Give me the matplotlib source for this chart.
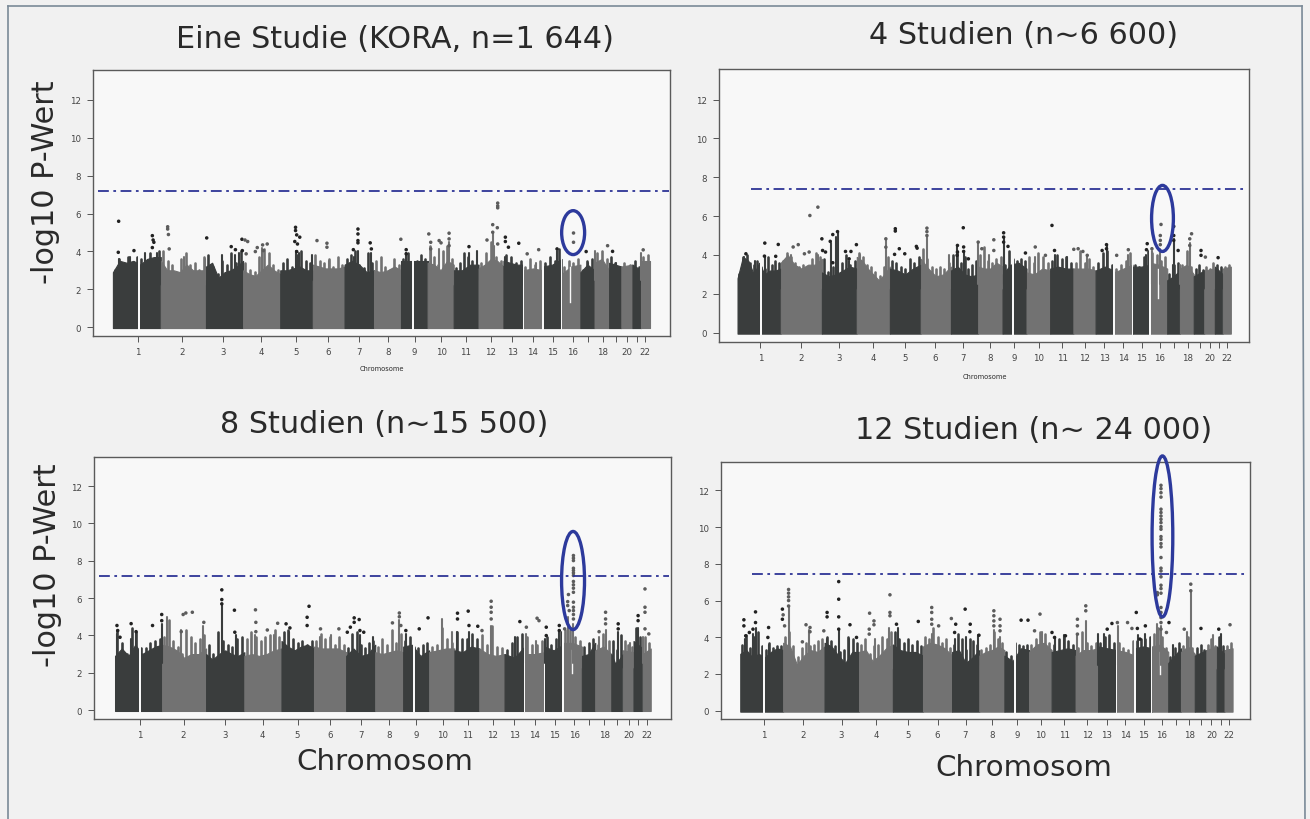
import numpy as np
import matplotlib
matplotlib.use("Agg")
import matplotlib.pyplot as plt
from matplotlib.patches import Ellipse, Rectangle

W, H = 1310, 820
PAPER = "#f1f1f1"; PANEL = "#f8f8f8"; DARK = "#3a3d3d"; GRAY = "#727272"; BLUE = "#2e3596"; HITDARK = "#222222"

chrom_labels = ["1","2","3","4","5","6","7","8","9","10","11","12","13","14","15","16","","18","","20","","22"]
y_ticks = [0,2,4,6,8,10,12]

# ---------- Panel A ----------
edges_a = [60,185,303,400,497,582,665,742,813,882,950,1015,1080,1131,1183,1232,1281,1318,1356,1388,1417,1440,1462]
ticks_a = [125,240,348,447,538,623,702,778,848,917,982,1047,1103,1157,1209,1261,1300,1339,1373,1403,1429,1450]
gaps_a = [(126,132),(840,846),(1130,1134),(1181,1185),(1231,1234)]
notch_a = (1255,1.3,3.2)
env_a = [[2.9,3.5,3.4,3.5,3.3,3.6,3.7,3.7],[3.5,3.0,3.0,2.9,3.3,3.0,3.0,3.0],[3.2,3.4,2.6,2.9,3.0,3.2,3.5],
         [3.0,2.8,2.7,3.0,3.3,3.0,2.8],[3.0,3.0,3.1,3.2,3.0,3.0],[3.3,3.2,3.1,3.1,3.1,3.2],[3.3,3.5,3.3,2.9,3.0],
         [3.0,2.9,3.0,3.2,3.0],[3.5,3.5,3.5,3.5],[3.4,3.3,3.0,3.5,3.3],[3.0,3.0,3.3,3.3],[3.1,3.3,3.6,3.5,3.2],
         [3.5,3.4,3.3,3.3],[3.0,3.1,3.0],[3.2,3.3,3.6],[2.8,3.2,3.3],[2.9,3.3,3.0],[3.4,3.6,3.0],[3.4,3.2],[3.2,3.3],[3.3,3.0],[3.5,3.5]]
rough_a = [[3.0,3.6,3.3,3.7,3.4,3.7,3.6,3.2,3.9,3.5,4.0],[4.0,3.5,3.3,2.8,3.6,3.9,3.3,3.4,3.0,3.7],[3.8,3.2,2.8,3.5,3.3,3.9,3.4,4.0],
           [3.4,3.0,2.9,3.7,4.1,3.9,3.3,3.0],[3.4,3.6,3.2,3.8,4.0,3.5,3.4],[3.8,3.5,3.4,3.6,3.2,3.7,3.3],[3.6,3.8,4.0,3.3,3.1,3.9,3.4],
           [3.5,3.7,3.2,3.0,3.6,3.3],[3.6,3.9,3.4,3.5,3.8,3.6],[4.3,3.7,3.3,4.0,4.3,3.6],[3.1,3.4,3.9,3.7,3.5,3.2],[3.4,3.9,4.5,3.7,3.5],
           [3.8,3.7,3.4,3.5],[3.2,3.6,3.3,3.5],[3.4,3.7,3.5,4.1],[3.2,3.5,3.4,3.6],[3.0,3.5,3.6],[3.9,4.0,3.6],[3.7,3.4,3.2],[3.4,3.3],[3.5,3.2],[3.7,3.8]]
spike_xa = [1052,1056,938,890,912,450,537,390,175,145,1010,990,1220,1320,1440,700,735,75,105,345,380,545,580,625,690,825,245,300,1085,1165,1300,1375]
spike_ya = [5.0,4.3,4.5,4.2,4.1,4.2,4.0,3.9,3.9,3.9,4.0,3.9,4.0,4.0,3.9,4.0,3.9,3.6,3.7,3.8,3.8,3.9,3.8,3.5,3.7,3.9,3.7,3.6,3.7,3.4,3.4,3.4]
hit_xa = [75,74,115,163,165,167,163,203,203,205,207,305,369,380,397,405,412,398,408,437,432,451,463,453,537,537,540,548,535,542,540,593,619,619,700,700,700,700,688,732,735,812,826,826,885,890,890,912,917,938,938,938,990,1052,1064,1052,1037,1065,1065,1065,1085,1085,1065,1093,1120,1142,1172,1220,1263,1263,1296,1352,1365,1445]
hit_ya = [5.59,3.95,4.04,4.83,4.6,4.48,4.2,5.3,5.18,4.89,4.13,4.71,4.25,4.09,4.64,4.6,4.52,4.04,3.87,4.2,3.99,4.34,4.39,4.04,5.27,5.1,4.87,4.75,4.52,4.39,3.99,4.57,4.43,4.22,5.18,4.92,4.57,4.45,4.09,4.45,4.13,4.64,4.09,3.87,4.92,4.48,4.13,4.57,4.45,4.96,4.66,4.3,4.25,5.41,5.25,5.01,4.6,6.55,6.4,6.3,4.75,4.52,4.39,4.22,4.43,3.87,4.09,4.13,4.97,4.48,3.99,4.3,4.0,4.08]

# ---------- Panel B ----------
edges_b = [103,222,335,431,522,607,690,765,832,898,963,1027,1088,1139,1190,1238,1285,1320,1358,1387,1416,1438,1460]
ticks_b = [166,277,382,476,564,647,723,797,863,932,996,1058,1112,1164,1215,1265,1303,1341,1375,1402,1427,1449]
gaps_b = [(165,171),(858,863),(1137,1141),(1188,1192),(1236,1241)]
notch_b = (1260,1.8,3.3)
env_b = [[2.8,3.9,3.7,3.0,3.6,3.0,3.2,3.2,3.3],[3.6,4.0,3.5,3.3,3.5,3.5,3.8],[3.1,2.9,3.0,3.2,3.4,3.3],[3.9,3.7,3.3,3.0,2.7,3.0,3.4],
         [3.3,3.2,3.0,3.3,3.5],[3.8,3.3,2.9,3.0,3.4],[3.2,3.4,3.0,2.9,3.0],[3.4,3.3,3.3,3.6,3.4],[3.0,3.5,3.6,3.3],[3.1,3.0,3.3,3.2],
         [3.3,3.4,3.3,3.3],[3.3,3.3,3.3,3.2],[3.2,3.4,3.2],[3.1,3.3,3.5],[3.4,3.4,3.5],[3.6,3.5,3.3],[2.7,2.9,3.2],[3.3,3.5,3.0],[2.9,3.2],[3.2,3.3],[3.4,3.0],[3.3,3.4]]
rough_b = [[3.0,3.9,4.0,3.6,3.5,3.7,3.4,3.3,3.9,3.5,3.7,3.6],[3.7,4.1,3.9,3.6,3.4,3.5,3.3,3.8,4.1,3.9],[3.8,3.1,3.4,3.3,3.6,4.0,3.5,3.7],
           [4.1,3.9,3.5,3.4,3.1,2.9,3.4,3.9],[3.7,3.6,3.4,3.3,3.8,3.6,3.9],[4.3,3.8,3.4,3.3,3.4,3.3,3.6],[4.0,4.2,3.6,3.9,3.3,3.5,3.7],
           [4.0,4.4,3.7,3.6,3.8,3.9],[3.5,4.2,3.8,3.7,3.8,3.7],[3.9,3.6,4.1,3.9,3.6],[3.7,4.0,3.8,3.9,3.6],[3.6,4.2,3.6,3.8,3.4],
           [3.6,4.1,4.2,3.5],[3.3,3.5,3.7,4.1],[3.5,3.4,3.9,4.2],[4.1,4.0,3.7,3.9],[3.0,3.5,3.6],[3.5,4.2,3.4],[3.3,3.5,3.2],[3.4,3.3,3.6],[3.5,3.4],[3.4,3.5]]
spike_xb = [378,375,511,624,1303,1347,1118,765,835,708,725,1228,1243,1266,1178,922,975,120,150,178,360,410,440,250,325,795,685,1010,1065,1320,1300]
spike_yb = [5.2,4.9,4.8,5.0,4.8,4.6,4.5,4.6,4.9,4.4,4.2,4.0,4.2,4.3,4.0,3.9,4.0,3.9,3.7,3.95,4.6,3.7,4.0,4.0,4.0,4.0,4.0,3.9,3.9,3.5,3.5]
hit_xb = [126,178,215,177,208,256,270,302,324,335,287,300,337,345,400,415,430,410,378,365,358,365,537,537,548,535,563,595,597,511,511,624,624,624,724,725,725,708,708,707,738,765,775,808,808,835,835,835,847,922,895,968,975,950,1028,1040,1053,1065,1106,1118,1118,1146,1178,1230,1228,1243,1268,1266,1266,1266,1303,1303,1303,1315,1352,1347,1347,1378,1378,1390,1425]
hit_yb = [4.06,4.61,4.54,3.94,3.93,4.41,4.53,6.03,6.46,4.83,4.06,4.15,4.23,4.15,4.18,4.18,4.53,3.8,5.2,5.05,4.7,3.6,5.35,5.23,4.32,4.03,4.06,4.44,4.35,4.83,4.4,5.38,5.2,5.0,5.4,4.41,4.18,4.49,4.15,3.98,3.8,4.66,4.32,4.78,4.23,5.14,4.92,4.66,4.44,4.41,4.1,5.52,4.23,3.98,4.29,4.32,4.18,3.98,4.23,4.53,4.32,3.98,4.27,4.58,4.27,4.32,5.57,5.0,4.75,4.53,5.47,5.0,4.75,4.23,5.09,4.83,4.49,4.23,3.98,3.89,3.86]

# ---------- Panel C ----------
edges_c = [65,188,303,403,500,585,669,745,818,886,952,1017,1083,1135,1187,1236,1285,1320,1362,1392,1420,1444,1465]
ticks_c = [130,244,353,451,542,628,707,781,851,921,987,1052,1108,1162,1214,1265,1304,1343,1377,1407,1433,1456]
gaps_c = [(128,134),(843,848),(1133,1137),(1185,1189),(1234,1238)]
notch_c = (1258,2.0,3.2)
env_c = [[2.9,3.3,2.9,3.5,3.0,3.2,3.4,3.5],[3.5,3.4,3.2,2.8,3.0,3.0,3.3],[3.0,2.7,3.0,3.2,3.0,2.9,3.1],[2.9,3.0,2.9,3.0,3.2,3.3],
         [3.7,3.4,3.2,3.4,3.5,3.3],[3.4,3.3,3.3,3.3,3.1],[2.9,3.3,2.9,3.0,3.5],[3.1,3.0,3.1,3.2,3.1],[3.4,3.5,2.9,3.2],[3.1,3.2,3.3,3.3],
         [3.2,3.1,3.4,3.3],[3.3,3.0,2.9,3.0],[3.0,2.8,3.4],[3.0,3.0,3.1],[3.4,3.2,3.5],[3.6,3.6,3.4],[2.9,3.0,3.6],[3.2,3.4,3.0],[3.0,2.5,2.7,3.0],[3.2,3.1],[3.7,3.3],[3.0,3.3]]
rough_c = [[4.3,3.6,3.0,4.4,4.2,3.3,3.3,3.6,3.7,3.8],[3.9,4.8,3.7,3.4,3.0,4.3,3.9,3.6,3.8,4.0],[3.5,3.0,4.2,3.7,3.5,3.4,3.8,3.9],
           [3.8,4.2,3.9,3.7,3.9,4.0,4.3,3.9],[4.2,4.3,3.8,3.6,3.7,3.5,3.7],[3.7,4.1,3.8,3.9,3.5,3.9,3.5],[3.3,4.1,4.2,3.5,3.3,3.6,3.7],
           [3.4,3.8,3.5,4.3,3.6,4.1],[3.7,3.9,3.4,3.3,3.5,3.6],[3.4,3.5,4.4,3.8,3.6],[4.2,3.8,3.8,4.1,3.8],[4.0,3.5,4.5,3.4,3.3],
           [3.2,3.6,3.9,4.1],[3.9,3.5,3.5,3.7],[3.9,3.5,3.8,4.2],[4.3,4.3,3.9,3.7],[3.4,3.6,3.8],[3.5,4.1,3.7],[3.7,3.2,4.0],[3.7,3.5,3.4],[4.4,3.9],[3.9,3.6]]
spike_xc = [344,202,238,296,187,920,945,1048,1140,990,960,1110,808,1347,1432,1380,1250,1262,1225,705,630,600,740,520,432,480,380,120,70,108,1330,1445,1410,1190,1165,825]
spike_yc = [5.7,5.0,4.3,4.5,4.6,4.9,4.2,4.5,4.1,4.2,4.2,3.9,4.8,4.3,4.4,4.2,5.0,4.6,4.3,4.0,4.0,3.9,3.9,4.2,4.0,4.0,4.0,4.2,4.1,3.8,3.9,3.9,3.6,3.8,3.7,4.1]
hit_xc = [70,72,78,107,120,163,187,187,243,250,267,238,297,344,344,344,377,432,433,433,378,463,490,512,522,572,567,567,602,650,672,690,690,703,680,705,715,808,808,790,812,825,860,883,960,960,988,990,1013,1024,1048,1048,1048,1048,1123,1140,1168,1173,1192,1192,1226,1226,
          1263,1263,1263,1263,1263,1263,1263,1263,1263,1263,1263,1263,1263,1263,1263,1250,1248,1248,1252,1263,1240,1347,1347,1347,1380,1380,1330,1432,1432,1450,1450,1450,1450,1460]
hit_yc = [4.53,4.26,3.9,4.63,4.2,4.53,5.12,4.79,5.12,5.2,5.24,4.2,4.7,6.44,5.92,5.69,5.35,5.37,4.7,4.2,4.17,4.29,4.65,4.62,4.4,5.56,4.97,4.53,4.35,4.35,4.17,4.94,4.7,4.85,4.44,4.26,4.17,5.2,5.0,4.67,4.53,4.26,4.35,4.94,5.19,4.88,5.3,4.53,4.49,4.26,5.83,5.51,5.24,4.88,4.74,4.44,4.92,4.79,4.44,3.99,4.53,4.26,
          8.28,8.14,8.01,7.6,7.48,7.35,7.21,6.89,6.71,6.53,6.31,5.78,5.51,5.33,5.12,6.19,5.81,5.6,5.33,4.88,4.35,5.24,4.88,4.62,4.62,4.35,4.2,5.06,4.79,6.49,5.51,5.24,4.35,4.08]

# ---------- Panel D ----------
edges_d = [110,228,342,437,530,613,693,768,837,905,967,1033,1095,1145,1196,1243,1288,1323,1361,1393,1421,1443,1465]
ticks_d = [174,284,389,484,572,653,730,803,872,937,1002,1065,1119,1170,1221,1270,1308,1346,1378,1407,1432,1455]
gaps_d = [(172,177),(863,868),(1143,1147),(1194,1198),(1241,1244)]
notch_d = (1265,2.0,3.2)
env_d = [[3.1,3.3,2.9,3.1,2.9,3.2,3.4,3.3],[3.7,3.5,2.5,3.0,3.3,3.2,3.5],[3.7,3.5,3.0,2.6,3.2,3.2],[3.2,3.3,2.7,3.0,3.4,3.6],
         [3.6,3.3,3.2,3.2,3.0],[3.5,3.7,3.6,3.4,3.0],[3.2,3.3,2.6,2.9,3.3],[3.0,3.2,3.3,3.5,3.3],[3.0,2.7,3.4,3.3],[3.2,3.6,3.7,3.3],
         [3.2,3.3,3.4,3.3],[3.0,3.3,3.3,3.4],[3.5,3.4,3.3],[3.3,3.2,3.0],[3.4,3.5,3.4],[3.5,3.6,3.2],[2.6,3.0,3.4],[3.2,3.5,3.1],[3.0,3.3],[3.3,3.5],[3.5,3.1],[3.3,3.4]]
rough_d = [[3.6,4.1,3.4,4.0,4.3,3.5,3.3,3.7,3.4,3.5,3.5],[4.0,4.3,3.5,2.9,3.4,3.7,3.5,3.6,3.8,3.9],[4.0,3.8,3.5,3.2,3.3,4.0,3.9,3.7],
           [3.6,3.9,3.1,3.5,3.6,4.0,3.9,4.3],[4.3,3.9,3.7,3.9,3.6,3.8,3.5],[4.0,3.9,4.5,4.0,3.7,3.9,3.4],[3.6,4.2,3.9,3.3,3.9,3.8,3.6],
           [3.3,3.4,3.6,4.3,3.9,3.7],[3.2,3.0,3.7,3.6,3.5,3.6],[3.6,3.9,4.3,4.2,3.7],[3.6,3.9,4.0,3.8,3.6],[3.4,4.3,3.7,3.5,3.7],
           [3.7,4.0,4.1,3.7],[3.7,3.4,3.3,3.8],[3.8,3.9,3.9,4.0],[4.2,4.5,4.0,3.4],[2.9,3.4,3.7],[3.5,4.0,3.4],[3.4,3.6,3.3],[3.6,3.9,3.5],[4.0,3.5],[3.5,3.7]]
spike_xd = [243,1350,1061,1150,637,825,808,381,520,545,152,145,1258,1268,1225,1205,1095,1110,1000,975,941,730,765,700,1300,1432,1410,1340,1038,480,300,410,350,124,190]
spike_yd = [5.7,6.5,4.9,4.6,4.2,4.0,4.4,4.4,4.5,4.5,4.5,4.2,4.7,4.6,4.2,4.1,4.2,4.2,4.1,4.0,4.3,4.0,4.1,3.9,3.6,4.2,4.1,4.3,4.2,3.9,4.4,3.9,3.9,3.9,3.6]
hit_xd = [120,120,152,152,135,145,125,188,186,226,228,226,232,243,243,243,243,243,291,302,302,281,349,349,340,381,381,381,412,381,430,466,478,478,465,465,522,522,522,540,600,637,637,637,637,656,691,703,729,743,700,742,767,808,808,808,808,825,825,825,883,902,935,920,968,975,1005,1038,1038,1038,1061,1061,1120,1133,1148,1176,1188,1200,1203,1225,1210,
          1268,1268,1268,1268,1268,1268,1268,1268,1268,1268,1268,1268,1268,1268,1268,1268,1268,1268,1268,1268,1268,1268,1268,1268,1268,1268,1268,1258,1258,1290,1283,1350,1350,1378,1427,1458,1332]
hit_yd = [4.95,4.62,5.38,4.8,4.26,4.44,4.08,4.53,3.99,5.53,5.22,4.98,4.62,6.6,6.4,6.2,6.0,5.7,4.68,4.53,4.3,3.75,5.35,5.11,4.35,7.03,6.07,5.11,4.68,4.44,3.99,5.31,4.89,4.68,4.44,4.17,6.31,5.35,5.17,4.71,4.86,5.62,5.35,4.98,4.71,4.62,5.02,4.71,5.53,4.71,4.26,4.3,4.11,5.44,5.17,4.89,4.62,4.98,4.62,4.35,4.93,4.93,5.26,4.35,4.26,3.99,4.08,4.98,4.62,4.17,5.71,5.44,4.44,4.75,4.8,4.8,4.48,5.35,4.48,4.62,3.9,
          12.27,12.09,11.87,11.63,10.97,10.79,10.6,10.42,10.24,10.02,9.88,9.48,9.33,9.1,8.92,8.34,7.76,7.61,7.29,6.83,6.65,6.4,5.62,5.35,5.07,4.8,4.44,6.43,6.31,4.8,4.26,6.89,6.53,4.48,4.44,4.68,4.44]

panels = [
    dict(box=(93,71,670,337),  x=(8,1515),  y=(-0.47,13.58), edges=edges_a, ticks=ticks_a, gaps=gaps_a, env=env_a, rough=rough_a, notch=notch_a,
         sx=spike_xa, sy=spike_ya, hx=hit_xa, hy=hit_ya, thr=7.2, thr_x=(22,1512), ell=(1262,1232,1292,3.83,6.15)),
    dict(box=(719,70,1249,343), x=(52,1510), y=(-0.48,13.57), edges=edges_b, ticks=ticks_b, gaps=gaps_b, env=env_b, rough=rough_b, notch=notch_b,
         sx=spike_xb, sy=spike_yb, hx=hit_xb, hy=hit_yb, thr=7.37, thr_x=(140,1505), ell=(1272,1242,1302,4.18,7.58)),
    dict(box=(94,458,671,720), x=(10,1518), y=(-0.48,13.56), edges=edges_c, ticks=ticks_c, gaps=gaps_c, env=env_c, rough=rough_c, notch=notch_c,
         sx=spike_xc, sy=spike_yc, hx=hit_xc, hy=hit_yc, thr=7.2, thr_x=(22,1512), ell=(1262,1232,1292,4.31,9.57)),
    dict(box=(721,463,1250,720), x=(57,1513), y=(-0.45,13.54), edges=edges_d, ticks=ticks_d, gaps=gaps_d, env=env_d, rough=rough_d, notch=notch_d,
         sx=spike_xd, sy=spike_yd, hx=hit_xd, hy=hit_yd, thr=7.43, thr_x=(142,1505), ell=(1272,1245,1302,5.11,13.87)),
]

fig = plt.figure(figsize=(W/100, H/100), dpi=100, facecolor=PAPER)

def chrom_index(edges, x):
    return int(np.clip(np.searchsorted(edges, x, side="right")-1, 0, 21))

for p in panels:
    l, t, r, b = p["box"]
    ax = fig.add_axes([l/W, 1-b/H, (r-l)/W, (b-t)/H], facecolor=PANEL)
    ax.set_xlim(*p["x"]); ax.set_ylim(*p["y"])
    for i, vals in enumerate(p["env"]):
        c = DARK if i % 2 == 0 else GRAY
        x0, x1 = p["edges"][i], p["edges"][i+1]
        ax.fill_between(np.linspace(x0, x1, len(vals)), -0.05, vals, color=c, lw=0.8, zorder=2)
        rv = p["rough"][i]
        step = (x1-x0)/len(rv)
        rx = x0 + step*(np.arange(len(rv))+0.5)
        ax.vlines(rx, 2.3, rv, color=c, lw=1.9, zorder=2.5, capstyle="round")
    for g0, g1 in p["gaps"]:
        ax.add_patch(Rectangle((g0, -0.2), g1-g0, 5.5, fc=PANEL, ec="none", zorder=3))
    nx, n0, n1 = p["notch"]
    ax.plot([nx, nx], [n0, n1], color=PANEL, lw=1.0, zorder=3.5)
    for sx, sy in zip(p["sx"], p["sy"]):
        c = DARK if chrom_index(p["edges"], sx) % 2 == 0 else GRAY
        ax.plot([sx, sx], [2.5, sy], color=c, lw=1.5, zorder=4, solid_capstyle="round")
    colors = [HITDARK if chrom_index(p["edges"], x) % 2 == 0 else "#5c5c5c" for x in p["hx"]]
    ax.scatter(p["hx"], p["hy"], s=6.5, c=colors, lw=0, zorder=5)
    ax.plot(p["thr_x"], [p["thr"]]*2, color=BLUE, lw=1.3, ls=(0,(6,2.5,1.5,2.5)), zorder=6, clip_on=False)
    cx, e0, e1, y0, y1 = p["ell"]
    ax.add_patch(Ellipse((cx, (y0+y1)/2), e1-e0, y1-y0, fc="none", ec="#2d3a9c", lw=2.4, zorder=7, clip_on=False))
    ax.set_xticks(p["ticks"]); ax.set_xticklabels(chrom_labels, fontsize=6.2, color="#444444")
    ax.set_yticks(y_ticks); ax.set_yticklabels(y_ticks, fontsize=6.2, color="#444444")
    ax.tick_params(axis="x", length=4.2, width=0.7, color="#555555", pad=3.5)
    ax.tick_params(axis="y", length=4.0, width=0.7, color="#555555", pad=4.5)
    for s in ax.spines.values():
        s.set_color("#5a5a5a"); s.set_linewidth(1.0)

def txt(x, y, s, **kw):
    fig.text(x/W, 1-y/H, s, ha="center", va="center", color="#2a2a2a", **kw)

FS = 21.8
txt(395, 40, "Eine Studie (KORA, n=1 644)", fontsize=FS)
txt(1024, 36, "4 Studien (n~6 600)", fontsize=FS)
txt(384, 425, "8 Studien (n~15 500)", fontsize=FS)
txt(1034, 431, "12 Studien (n~ 24 000)", fontsize=FS)
txt(46, 182, "-log10 P-Wert", fontsize=FS, rotation=90)
txt(48, 565, "-log10 P-Wert", fontsize=FS, rotation=90)
txt(385, 762, "Chromosom", fontsize=21.2)
txt(1024, 768, "Chromosom", fontsize=21.2)
txt(382, 369, "Chromosome", fontsize=4.8)
txt(985, 377, "Chromosome", fontsize=4.8)

frame = "#7b8a98"
fig.add_artist(plt.Line2D([7.5/W, 7.5/W], [0, 1-7/H], color=frame, lw=1.2))
fig.add_artist(plt.Line2D([7.5/W, 1302/W], [1-7/H, 1-7/H], color=frame, lw=1.2))
fig.add_artist(plt.Line2D([1302/W, 1305/W], [1-7/H, 0], color=frame, lw=1.2))
fig.savefig("out.png", dpi=100, facecolor=PAPER)
